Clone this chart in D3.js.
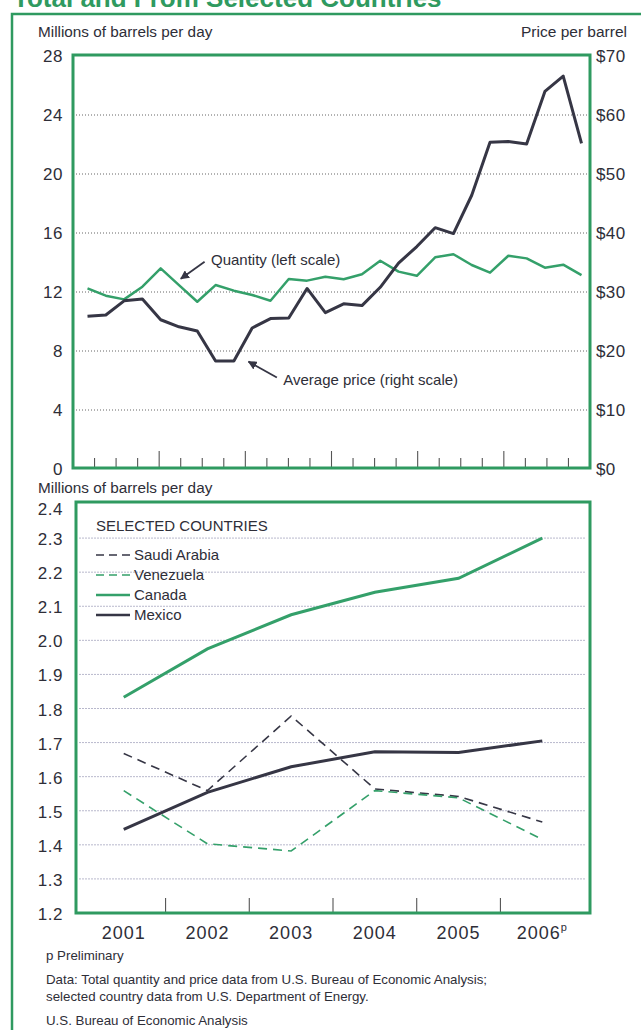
<!DOCTYPE html>
<html>
<head>
<meta charset="utf-8">
<script src="https://cdn.jsdelivr.net/npm/d3@7"></script>
<style>
  body { margin: 0; background: #fff; }
  svg { display: block; font-family: "Liberation Sans", Arial, sans-serif; }
</style>
</head>
<body>
<svg id="chart" width="641" height="1030"></svg>
<script>
// Quarterly series for the top panel (28 observations)
const quantity = [12.25, 11.75, 11.5, 12.36, 13.6, 12.47, 11.34, 12.47, 12.09, 11.8, 11.41, 12.88, 12.77, 13.04,
                  12.86, 13.2, 14.12, 13.38, 13.1, 14.35, 14.56, 13.83, 13.31, 14.46, 14.28, 13.65, 13.85, 13.15];
const price = [25.9, 26.1, 28.5, 28.8, 25.3, 24.1, 23.4, 18.3, 18.3, 23.9, 25.5, 25.6, 30.6, 26.5,
               28.0, 27.7, 30.8, 34.9, 37.7, 40.9, 39.9, 46.4, 55.4, 55.5, 55.1, 64.0, 66.6, 55.2];
const leftTicks = [0, 4, 8, 12, 16, 20, 24, 28];
const rightTicks = [0, 10, 20, 30, 40, 50, 60, 70];

// Annual series for the bottom panel
const years = ["2001", "2002", "2003", "2004", "2005", "2006"];
const saudi = [1.668, 1.559, 1.778, 1.564, 1.542, 1.467];
const venezuela = [1.559, 1.403, 1.382, 1.559, 1.538, 1.416];
const canada = [1.833, 1.975, 2.075, 2.141, 2.182, 2.30];
const mexico = [1.445, 1.554, 1.629, 1.673, 1.671, 1.705];
const bottomTicks = [1.2, 1.3, 1.4, 1.5, 1.6, 1.7, 1.8, 1.9, 2.0, 2.1, 2.2, 2.3, 2.4];

const green = "#34a06a";
const frameGreen = "#2f9a60";
const dark = "#363645";
const textCol = "#2e2e38";

const svg = d3.select("#chart");

svg.append("defs").append("marker")
  .attr("id", "arrow")
  .attr("viewBox", "0 0 10 10")
  .attr("refX", 9).attr("refY", 5)
  .attr("markerWidth", 5).attr("markerHeight", 5)
  .attr("orient", "auto")
  .append("path").attr("d", "M0,0 L10,5 L0,10 z").attr("fill", dark);

// title (cropped at the top edge) and outer panel frame
svg.append("text")
  .attr("x", 13).attr("y", 7)
  .attr("font-size", 26).attr("font-weight", "bold")
  .attr("fill", frameGreen)
  .text("Total and From Selected Countries");

svg.append("path")
  .attr("d", "M12,1030 V14 H641")
  .attr("fill", "none").attr("stroke", frameGreen).attr("stroke-width", 2.5);

// ---------- top panel ----------
const top1 = {left: 73, right: 590, top: 55, bottom: 468};

const x1 = d3.scaleLinear().domain([0, quantity.length - 1]).range([top1.left + 14.5, top1.right - 8.5]);
const qtr = d3.scaleLinear().domain([0, 24]).range([top1.left, top1.right]);
const yL = d3.scaleLinear().domain([0, 28]).range([top1.bottom + 1, top1.top + 1]);
const yR = d3.scaleLinear().domain([0, 70]).range([top1.bottom + 1, top1.top + 1]);

const g1 = svg.append("g");

g1.selectAll(".grid1").data(leftTicks.filter(d => d > 0 && d < 28)).enter()
  .append("line")
  .attr("x1", top1.left + 3).attr("x2", top1.right - 2)
  .attr("y1", d => yL(d)).attr("y2", d => yL(d))
  .attr("stroke", "#666").attr("stroke-width", 1).attr("stroke-dasharray", "1,2");

// quarter ticks along the bottom
g1.selectAll(".qtick").data(d3.range(1, 24)).enter()
  .append("line")
  .attr("x1", d => qtr(d)).attr("x2", d => qtr(d))
  .attr("y1", top1.bottom).attr("y2", d => d % 4 === 0 ? top1.bottom - 17 : top1.bottom - 10)
  .attr("stroke", "#555").attr("stroke-width", 1.1);

g1.append("rect")
  .attr("x", top1.left).attr("y", top1.top)
  .attr("width", top1.right - top1.left).attr("height", top1.bottom - top1.top)
  .attr("fill", "none").attr("stroke", frameGreen).attr("stroke-width", 3);

g1.selectAll(".ltick").data(leftTicks).enter()
  .append("text")
  .attr("x", 63).attr("y", d => yL(d) + 6)
  .attr("text-anchor", "end").attr("font-size", 17).attr("letter-spacing", 0.5)
  .attr("fill", textCol).text(d => d);

g1.selectAll(".rtick").data(rightTicks).enter()
  .append("text")
  .attr("x", 596).attr("y", d => yR(d) + 6)
  .attr("font-size", 17).attr("letter-spacing", 0.4)
  .attr("fill", textCol).text(d => "$" + d);

g1.append("text").attr("x", 38).attr("y", 37).attr("font-size", 15.3).attr("fill", textCol)
  .text("Millions of barrels per day");
g1.append("text").attr("x", 627).attr("y", 37).attr("font-size", 15.5).attr("text-anchor", "end")
  .attr("fill", textCol).text("Price per barrel");

g1.append("path").datum(quantity)
  .attr("fill", "none").attr("stroke", green).attr("stroke-width", 2.5).attr("stroke-linejoin", "round")
  .attr("d", d3.line().x((d, i) => x1(i)).y(d => yL(d)));

g1.append("path").datum(price)
  .attr("fill", "none").attr("stroke", dark).attr("stroke-width", 3).attr("stroke-linejoin", "round")
  .attr("d", d3.line().x((d, i) => x1(i)).y(d => yR(d)));

// annotations, placed in data units
const notes = [
  {text: "Quantity (left scale)", tx: 6.75, ty: 13.8, from: [6.4, 14.05], to: [5.1, 12.9], scale: yL},
  {text: "Average price (right scale)", tx: 10.7, ty: 14.2, from: [10.35, 15.5], to: [8.8, 18.2], scale: yR}
];
notes.forEach(n => {
  g1.append("text").attr("x", x1(n.tx)).attr("y", n.scale(n.ty))
    .attr("font-size", 15).attr("fill", textCol).text(n.text);
  g1.append("line")
    .attr("x1", x1(n.from[0])).attr("y1", n.scale(n.from[1]))
    .attr("x2", x1(n.to[0])).attr("y2", n.scale(n.to[1]))
    .attr("stroke", dark).attr("stroke-width", 1.8).attr("marker-end", "url(#arrow)");
});

// ---------- bottom panel ----------
const b = {left: 76, right: 590, top: 502, bottom: 913};

const x2 = d3.scalePoint().domain(years).range([b.left, b.right]).padding(0.57);
const y2 = d3.scaleLinear().domain([1.2, 2.4]).range([b.bottom, b.top + 2]);

const g2 = svg.append("g");

g2.selectAll(".grid2").data(bottomTicks.filter(d => d > 1.2 && d < 2.4)).enter()
  .append("line")
  .attr("x1", b.left + 3).attr("x2", b.right - 5)
  .attr("y1", d => y2(d)).attr("y2", d => y2(d))
  .attr("stroke", "#b8b8cc").attr("stroke-width", 1).attr("stroke-dasharray", "2,1");

// year separator ticks
const step = x2.step();
g2.selectAll(".ytick").data(years.slice(1)).enter()
  .append("line")
  .attr("x1", d => x2(d) - step / 2).attr("x2", d => x2(d) - step / 2)
  .attr("y1", b.bottom).attr("y2", b.bottom - 15)
  .attr("stroke", "#555").attr("stroke-width", 1.1);

g2.append("rect")
  .attr("x", b.left).attr("y", b.top)
  .attr("width", b.right - b.left).attr("height", b.bottom - b.top)
  .attr("fill", "none").attr("stroke", frameGreen).attr("stroke-width", 3);

g2.selectAll(".btick").data(bottomTicks).enter()
  .append("text")
  .attr("x", 63).attr("y", d => y2(d) + (d === 2.4 ? 11 : 7))
  .attr("text-anchor", "end").attr("font-size", 17).attr("letter-spacing", 0.5)
  .attr("fill", textCol).text(d => d.toFixed(1));

const yl = g2.selectAll(".xlab").data(years).enter()
  .append("text")
  .attr("x", d => x2(d)).attr("y", 939)
  .attr("text-anchor", "middle").attr("font-size", 18).attr("letter-spacing", 1)
  .attr("fill", textCol).text(d => d);
yl.filter(d => d === "2006").append("tspan")
  .attr("font-size", 11).attr("dy", -8).text("p");

g2.append("text").attr("x", 38).attr("y", 493).attr("font-size", 15.3).attr("fill", textCol)
  .text("Millions of barrels per day");

const series = [
  {name: "Saudi Arabia", values: saudi, color: dark, width: 1.6, dash: "9,6"},
  {name: "Venezuela", values: venezuela, color: green, width: 1.6, dash: "9,6"},
  {name: "Canada", values: canada, color: green, width: 3, dash: null},
  {name: "Mexico", values: mexico, color: dark, width: 3, dash: null}
];

const line2 = d3.line().x((d, i) => x2(years[i])).y(d => y2(d));
series.forEach(s => {
  g2.append("path").datum(s.values)
    .attr("fill", "none").attr("stroke", s.color).attr("stroke-width", s.width)
    .attr("stroke-dasharray", s.dash).attr("d", line2);
});

// legend
const lg = g2.append("g").attr("transform", "translate(96,0)");
lg.append("text").attr("x", 0).attr("y", 531).attr("font-size", 15).attr("fill", textCol)
  .text("SELECTED COUNTRIES");
series.forEach((s, i) => {
  const yy = 555 + i * 20;
  lg.append("line").attr("x1", 0).attr("x2", 34).attr("y1", yy).attr("y2", yy)
    .attr("stroke", s.color).attr("stroke-width", s.dash ? 1.4 : 2.5)
    .attr("stroke-dasharray", s.dash ? "8,5" : null);
  lg.append("text").attr("x", 38).attr("y", yy + 5).attr("font-size", 15).attr("fill", textCol)
    .text(s.name);
});

// footnotes
const foot = svg.append("g").attr("font-family", "'Liberation Sans Narrow', 'Liberation Sans', Arial, sans-serif")
  .attr("font-size", 13.3).attr("fill", textCol);
foot.append("text").attr("x", 46).attr("y", 960).text("p Preliminary");
foot.append("text").attr("x", 46).attr("y", 984).text("Data: Total quantity and price data from U.S. Bureau of Economic Analysis;");
foot.append("text").attr("x", 46).attr("y", 1001).text("selected country data from U.S. Department of Energy.");
foot.append("text").attr("x", 46).attr("y", 1025).text("U.S. Bureau of Economic Analysis");
</script>
</body>
</html>
